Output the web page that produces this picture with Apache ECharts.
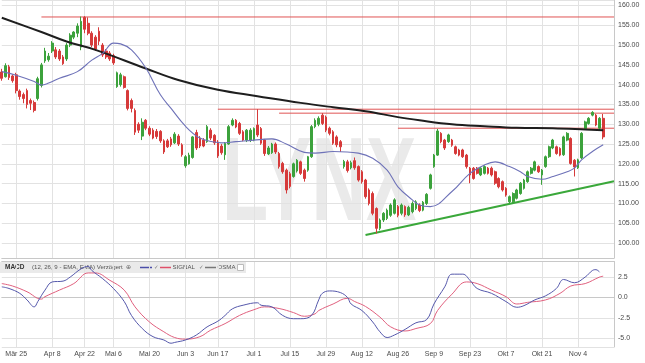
<!DOCTYPE html>
<html><head><meta charset="utf-8">
<script src="https://cdn.jsdelivr.net/npm/echarts@6/dist/echarts.min.js"></script>
<style>html,body{margin:0;padding:0;background:#fff}#c{width:645px;height:363px}</style>
</head><body><div id="c"></div><script>
// ---- calendar (German exchange trading days) ----
const holidays = ['2019-04-19','2019-04-22','2019-05-01','2019-06-10'];
const tickDates = ['2019-03-25','2019-04-08','2019-04-22','2019-05-06','2019-05-20','2019-06-03','2019-06-17','2019-07-01','2019-07-15','2019-07-29','2019-08-12','2019-08-26','2019-09-09','2019-09-23','2019-10-07','2019-10-21','2019-11-04'];
const tickLabels = ['Mär 25','Apr 8','Apr 22','Mai 6','Mai 20','Jun 3','Jun 17','Jul 1','Jul 15','Jul 29','Aug 12','Aug 26','Sep 9','Sep 23','Okt 7','Okt 21','Nov 4'];

// ---- price candles [open, close, low, high], from 2019-03-19 ----
const candles = [
[143.2,141.6,141.0,144.0],[142.0,144.8,141.8,145.4],[144.5,141.8,141.2,145.0],[142.2,141.0,140.5,142.6],[142.5,138.5,137.8,143.0],
[138.4,137.0,136.2,138.8],[137.5,136.5,135.3,138.0],[138.5,135.0,134.0,139.0],[136.0,135.3,133.6,136.5],[135.5,133.5,133.0,136.0],
[136.5,141.5,136.0,142.0],[139.8,145.0,139.3,145.5],[146.0,148.5,145.5,149.3],[146.3,147.2,145.8,148.0],[148.5,150.5,148.0,151.0],
[148.8,147.0,146.5,149.5],[148.5,146.5,146.0,149.0],[147.0,145.3,145.0,147.5],[146.5,150.0,146.0,150.5],[150.0,152.5,149.5,153.0],
[152.0,153.3,151.5,153.5],[153.0,154.8,152.0,155.5],[149.5,156.0,148.7,157.2],[157.0,154.0,153.0,157.3],[155.5,153.0,152.5,157.0],
[153.0,150.0,149.5,153.5],[152.0,149.0,148.5,152.5],[153.5,151.0,150.0,154.5],[150.0,147.5,147.0,150.5],[148.5,147.0,146.5,149.0],
[148.0,146.5,146.0,148.5],[147.3,145.5,145.0,147.8],[139.5,143.0,139.2,143.3],[140.0,142.5,139.5,143.0],[142.0,139.3,139.0,142.3],
[138.5,134.0,133.5,138.8],[136.0,134.0,133.0,136.5],[133.5,128.0,127.3,134.0],[130.0,128.5,127.8,130.5],[127.0,130.5,126.0,131.5],
[131.0,129.0,128.5,131.3],[129.0,127.5,127.0,129.5],[128.5,126.5,126.2,129.0],[128.2,126.9,126.3,128.8],[128.2,125.8,125.3,128.5],
[125.8,123.0,122.5,126.2],[125.8,124.3,124.0,126.3],[126.3,124.8,124.3,126.8],[125.3,127.5,125.0,128.0],[127.0,125.0,124.5,127.5],
[124.8,122.3,121.8,125.2],[119.5,121.8,119.0,122.2],[120.0,122.2,119.8,122.8],[121.6,126.8,121.3,127.0],[127.9,124.0,123.5,128.6],
[126.5,124.5,124.0,127.0],[126.0,124.5,124.2,126.5],[125.6,129.4,125.3,129.8],[128.5,126.5,126.0,129.0],[127.2,125.3,124.8,127.5],
[125.5,122.0,121.5,126.0],[124.5,122.8,122.3,125.0],[122.3,125.2,121.0,125.5],[125.0,129.4,124.8,129.8],[129.8,131.0,129.5,131.5],
[131.0,129.3,129.0,131.3],[130.2,127.7,127.3,130.6],[128.1,126.0,125.7,128.5],[126.0,128.5,125.5,128.8],[126.0,128.5,125.5,129.0],
[126.0,128.9,125.7,129.2],[129.8,127.3,126.8,133.8],[128.9,125.2,124.8,129.3],[126.0,122.6,122.0,126.3],[122.5,124.0,122.2,124.5],
[122.8,125.0,122.5,125.3],[125.0,123.0,122.5,125.4],[122.6,119.3,118.8,123.0],[120.1,118.0,117.5,120.5],[118.4,113.4,112.5,118.8],
[117.5,114.3,113.8,118.0],[116.8,120.0,116.5,120.3],[118.2,120.9,117.8,121.2],[120.5,117.6,117.2,120.8],[118.4,116.3,115.5,118.8],
[118.4,121.8,118.0,122.0],[121.8,129.4,121.5,129.8],[129.4,131.0,129.0,131.5],[130.0,131.5,129.5,132.0],[132.3,130.2,129.8,132.8],
[131.8,128.5,128.0,132.2],[129.0,127.7,127.2,129.4],[128.1,125.2,124.8,128.5],[126.8,124.8,124.2,127.2],[125.6,124.3,123.0,126.0],
[119.3,120.6,118.8,121.0],[120.5,118.3,117.8,121.0],[119.0,120.3,118.6,120.8],[120.8,119.0,118.5,121.6],[119.3,115.9,115.5,119.6],
[118.0,115.5,115.0,118.4],[115.9,111.7,111.2,116.2],[113.4,110.0,109.5,113.8],[112.5,107.5,107.0,113.0],[108.7,103.7,102.4,109.0],
[103.7,105.8,103.2,106.2],[105.8,107.5,105.3,107.8],[106.2,108.3,105.8,108.7],[107.0,109.6,106.6,110.0],[107.5,110.9,107.2,111.3],
[109.2,107.0,106.5,109.6],[107.5,109.6,107.0,110.0],[109.2,107.1,106.6,109.5],[107.1,109.0,106.8,109.4],[107.9,110.0,107.5,110.5],
[108.7,110.4,108.3,110.8],[109.6,108.2,107.8,110.0],[108.3,110.3,108.0,110.6],[110.0,112.3,109.6,112.6],[113.8,117.2,113.5,117.5],
[119.3,122.2,119.0,122.5],[122.2,128.3,122.0,128.8],[127.7,125.6,125.2,128.0],[126.0,124.0,123.5,126.3],[125.6,127.3,125.3,127.6],
[126.0,124.7,124.3,126.3],[124.3,122.6,122.3,124.6],[123.5,122.2,121.9,123.8],[123.5,121.8,121.5,123.8],[122.2,119.3,118.8,122.5],
[118.9,117.2,115.1,119.2],[118.9,116.3,116.0,119.2],[118.9,117.6,117.3,119.2],[117.2,118.9,116.9,119.2],[117.6,119.3,117.3,119.6],
[118.9,117.6,117.3,119.2],[118.9,117.2,116.8,119.3],[118.0,115.1,114.7,118.3],[116.3,114.2,113.8,116.6],[115.5,113.4,113.0,115.8],
[113.8,112.1,111.7,114.1],[110.4,111.7,110.0,112.0],[110.4,112.5,110.0,112.8],[111.3,113.4,111.0,113.7],[112.5,115.1,112.2,115.4],
[113.8,115.9,113.5,116.2],[115.5,118.0,115.2,118.3],[117.6,118.9,117.3,119.2],[118.4,120.5,118.1,120.8],[119.3,118.0,117.7,119.6],
[117.2,118.4,114.7,118.7],[119.3,121.8,119.0,122.1],[121.8,124.3,121.5,124.6],[124.0,126.0,123.7,126.3],[124.3,122.6,122.3,124.6],
[123.9,122.2,121.9,124.2],[122.3,126.8,122.0,127.1],[126.0,127.7,125.7,128.0],[126.4,120.1,119.8,126.7],[120.9,119.2,116.8,121.2],
[119.0,121.0,118.7,121.3],[121.5,127.7,121.2,128.0],[128.9,130.6,128.6,130.9],[130.2,131.5,129.9,131.8],[132.3,133.0,132.0,133.3],
[132.3,129.8,129.5,132.6],[129.0,131.5,128.5,131.8],[131.5,126.8,126.2,132.6]
];

// ---- moving averages: [dayIndex, value] ----
const ma200 = [[0,156.9],[11,153.3],[18,150.9],[26,148.8],[40,144.1],[49,141.2],[60,138.7],[71,137.1],[83,135.4],[92,134.3],[101,133.3],[110,131.8],[116,131.0],[125,130.0],[134,129.5],[143,129.1],[153,129.0],[162,128.7],[167,128.5]];
const maShort = [[0,143.3],[4,142.4],[9,140.8],[11,139.9],[13,140.4],[16,141.6],[21,143.3],[25,146.2],[28,147.9],[31,150.5],[33,150.3],[36,148.8],[40,144.2],[44,137.5],[47,134.0],[51,129.5],[55,126.5],[59,125.5],[61,125.3],[65,125.6],[70,126.0],[75,126.3],[79,125.0],[84,122.9],[87,122.7],[92,123.1],[99,122.7],[103,121.4],[107,118.4],[110,114.2],[114,110.9],[116,109.6],[119,109.2],[125,113.0],[130,117.6],[134,119.7],[137,120.5],[141,119.3],[144,118.0],[146,116.8],[150,116.1],[153,116.8],[157,118.0],[159,118.9],[161,121.0],[164,123.1],[167,124.8]];

// ---- support / resistance: [startIndex, value] ----
const resistance = [[11,157.1],[60,133.8],[77,132.8],[110,129.0]];
const trendLine = [[101,102.0],[170,115.6]];

// ---- MACD panel: [dayIndex, value] ----
const macd = [[0,1.3],[2,1.1],[5,0.5],[7,-0.3],[9,-1.15],[10,-0.5],[12,0.9],[14,1.9],[17,2.0],[19,2.5],[22,3.5],[24,3.8],[25,3.3],[28,2.3],[31,1.1],[34,-0.5],[36,-2.2],[39,-3.8],[42,-4.8],[45,-5.2],[47,-5.6],[48,-5.5],[51,-5.2],[54,-4.6],[57,-3.6],[60,-2.9],[62,-2.2],[64,-1.4],[67,-0.95],[71,-0.65],[72,-0.95],[75,-1.15],[78,-2.2],[81,-2.6],[83,-2.6],[86,-2.2],[88,-0.3],[89,0.5],[91,0.8],[94,0.6],[96,0.0],[97,-0.8],[100,-1.6],[103,-3.0],[105,-4.2],[107,-4.9],[109,-4.6],[112,-3.9],[115,-3.1],[118,-2.7],[120,-0.8],[123,1.3],[125,2.85],[128,2.85],[130,2.1],[132,1.1],[136,0.5],[140,-0.5],[143,-1.2],[145,-1.0],[148,-0.3],[151,0.2],[154,1.1],[156,2.2],[159,1.8],[162,2.5],[164,3.3],[165,3.4],[166,3.1]];
const signal = [[0,1.7],[3,1.4],[7,0.7],[11,-0.2],[12,0.1],[16,0.9],[20,1.7],[24,3.0],[26,3.0],[30,2.1],[34,0.9],[37,-1.15],[41,-3.0],[45,-4.2],[48,-4.9],[51,-5.1],[55,-4.8],[58,-4.0],[62,-3.2],[66,-2.2],[70,-1.5],[73,-1.15],[77,-1.35],[81,-1.85],[84,-2.3],[87,-2.0],[88,-1.6],[92,-0.8],[96,-0.1],[98,-0.5],[101,-1.1],[105,-2.4],[108,-3.6],[112,-4.1],[115,-3.8],[119,-3.2],[121,-1.6],[125,0.4],[129,1.9],[132,1.7],[136,0.9],[140,0.1],[143,-0.8],[146,-0.6],[151,-0.3],[155,0.5],[158,1.4],[162,1.7],[166,2.5],[167,2.6]];

// ---- build categories ----
const days = [];
for (let d = new Date(Date.UTC(2019,2,19)); d <= new Date(Date.UTC(2019,10,18)); d.setUTCDate(d.getUTCDate()+1)) {
  const w = d.getUTCDay(); const s = d.toISOString().slice(0,10);
  if (w === 0 || w === 6 || holidays.includes(s)) continue;
  days.push(s);
}
const tickIdx = {};
tickDates.forEach((t, k) => { const i = days.findIndex(s => s >= t); tickIdx[i] = tickLabels[k]; });
const isTick = (i) => tickIdx[i] !== undefined;
const last = days.length - 1;

const UP = '#3ca23c', DOWN = '#d63a3a', RES = '#e05454';
const gridCol = '#e2e2e2', axisCol = '#c8c8c8', txtCol = '#4a4a4a';
const FONT = 'Liberation Sans, Arial, sans-serif';

const levelSeries = resistance.map(r => ({
  type:'line', xAxisIndex:0, yAxisIndex:0, data:[[r[0], r[1]], [last, r[1]]], showSymbol:false, silent:true, z:3,
  lineStyle:{color:RES, width:1}
}));
levelSeries.push({
  type:'line', xAxisIndex:0, yAxisIndex:0, data:trendLine, showSymbol:false, silent:true, z:3,
  lineStyle:{color:'#3aa83a', width:2}
});

const chart = echarts.init(document.getElementById('c'), null, {renderer:'canvas'});
chart.setOption({
  animation: false,
  backgroundColor: '#fff',
  textStyle: {fontFamily: FONT},
  grid: [
    {left: 1.8, right: 31, top: 0, height: 258},
    {left: 1.8, right: 31, top: 261.5, height: 85.5}
  ],
  xAxis: [
    {gridIndex:0, type:'category', data:days, boundaryGap:false,
     axisLine:{show:true, lineStyle:{color:axisCol}}, axisTick:{show:false}, axisLabel:{show:false},
     splitLine:{show:true, interval:(i)=>isTick(i), lineStyle:{color:gridCol}}},
    {gridIndex:1, type:'category', data:days, boundaryGap:false,
     axisLine:{show:true, lineStyle:{color:axisCol}}, axisTick:{show:false},
     axisLabel:{show:true, interval:(i)=>isTick(i), formatter:(v,i)=>tickIdx[i]||'', fontSize:7, color:txtCol, margin:4, fontFamily:FONT},
     splitLine:{show:true, interval:(i)=>isTick(i), lineStyle:{color:gridCol}}},
    {gridIndex:1, type:'category', data:days, boundaryGap:false, position:'top',
     axisLine:{show:true, lineStyle:{color:axisCol}}, axisTick:{show:false}, axisLabel:{show:false}, splitLine:{show:false}}
  ],
  yAxis: [
    {gridIndex:0, type:'value', position:'right', min:96.21, max:161.39, splitNumber:13, minInterval:5, maxInterval:5,
     axisLine:{show:true, lineStyle:{color:axisCol}}, axisTick:{show:false},
     axisLabel:{fontSize:7, color:txtCol, margin:4, fontFamily:FONT, showMinLabel:false, showMaxLabel:false,
       formatter:(v)=> Math.abs(v/5 - Math.round(v/5)) < 1e-6 ? v.toFixed(2) : ''},
     splitLine:{lineStyle:{color:gridCol}}},
    {gridIndex:1, type:'value', position:'right', min:-6.06, max:4.40, splitNumber:4, minInterval:2.5, maxInterval:2.5,
     axisLine:{show:true, lineStyle:{color:axisCol}}, axisTick:{show:false},
     axisLabel:{fontSize:7, color:txtCol, margin:4, fontFamily:FONT, showMinLabel:false, showMaxLabel:false,
       formatter:(v)=> Math.abs(v/2.5 - Math.round(v/2.5)) < 1e-6 ? v.toFixed(1) : ''},
     splitLine:{lineStyle:{color:gridCol}}}
  ],
  graphic: [
    {type:'text', x:222, y:128, scaleX:0.64, z:0, silent:true,
     style:{text:'LYNX', font:'bold 118px ' + FONT, fill:'#eaeaea'}},
    {type:'group', z:100, children:[
      {type:'rect', shape:{x:0, y:262, width:246, height:11}, style:{fill:'rgba(232,232,232,0.9)'}},
      {type:'text', x:5, y:267.5, style:{text:'MACD', font:'bold 6.5px ' + FONT, fill:'#333', verticalAlign:'middle'}},
      {type:'text', x:32, y:267.5, style:{text:'(12, 26, 9 - EMA, EMA) Verzögert', font:'6.1px ' + FONT, fill:'#555', verticalAlign:'middle'}},
      {type:'text', x:126, y:267.5, style:{text:'⊕', font:'6px DejaVu Sans', fill:'#666', verticalAlign:'middle'}},
      {type:'line', shape:{x1:140, y1:267.5, x2:152, y2:267.5}, style:{stroke:'#4b4ea8', lineWidth:1.5}},
      {type:'text', x:154, y:267.5, style:{text:'✓', font:'5.5px DejaVu Sans', fill:'#777', verticalAlign:'middle'}},
      {type:'line', shape:{x1:160, y1:267.5, x2:171, y2:267.5}, style:{stroke:'#e0506a', lineWidth:1.5}},
      {type:'text', x:172.5, y:267.5, style:{text:'SIGNAL', font:'6.1px ' + FONT, fill:'#555', verticalAlign:'middle'}},
      {type:'text', x:199, y:267.5, style:{text:'✓', font:'5.5px DejaVu Sans', fill:'#777', verticalAlign:'middle'}},
      {type:'line', shape:{x1:205, y1:267.5, x2:216, y2:267.5}, style:{stroke:'#777', lineWidth:1.5}},
      {type:'text', x:217.5, y:267.5, style:{text:'OSMA', font:'6.1px ' + FONT, fill:'#555', verticalAlign:'middle'}},
      {type:'rect', shape:{x:237.5, y:264.5, width:6, height:6}, style:{fill:'#fff', stroke:'#bbb', lineWidth:1}}
    ]}
  ],
  series: [
    {type:'candlestick', xAxisIndex:0, yAxisIndex:0, data:candles, barWidth:2.2, z:4,
     itemStyle:{color:UP, color0:DOWN, borderColor:UP, borderColor0:DOWN, borderWidth:1}},
    {type:'line', xAxisIndex:0, yAxisIndex:0, data:ma200, smooth:0.4, showSymbol:false, silent:true, z:5,
     lineStyle:{color:'#1e1e1e', width:2}},
    {type:'line', xAxisIndex:0, yAxisIndex:0, data:maShort, smooth:0.4, showSymbol:false, silent:true, z:5,
     lineStyle:{color:'#6e72b8', width:1.1}},
    ...levelSeries,
    {type:'line', xAxisIndex:1, yAxisIndex:1, data:signal, smooth:0.4, showSymbol:false, silent:true,
     lineStyle:{color:'#e0607e', width:1}},
    {type:'line', xAxisIndex:1, yAxisIndex:1, data:macd, smooth:0.4, showSymbol:false, silent:true,
     lineStyle:{color:'#5558ab', width:1}}
  ]
});
</script></body></html>
